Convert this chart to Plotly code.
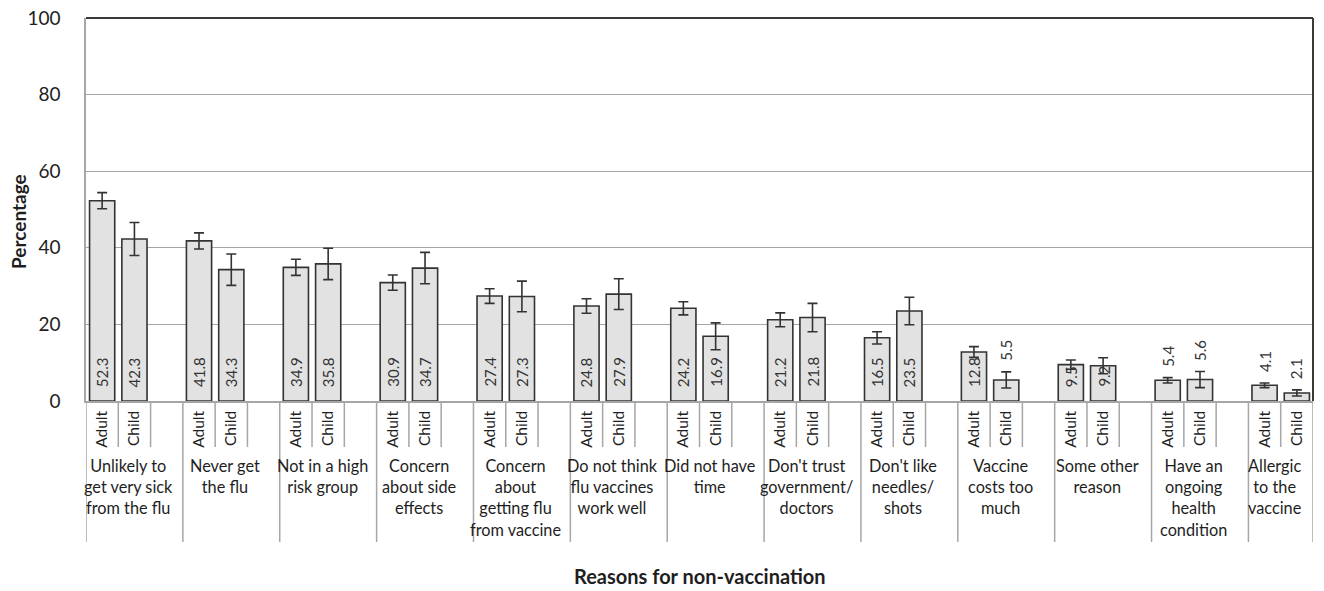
import plotly.graph_objects as go

# ---------------- data ----------------
groups = [
    "Unlikely to<br>get very sick<br>from the flu",
    "Never get<br>the flu",
    "Not in a high<br>risk group",
    "Concern<br>about side<br>effects",
    "Concern<br>about<br>getting flu<br>from vaccine",
    "Do not think<br>flu vaccines<br>work well",
    "Did not have<br>time",
    "Don't trust<br>government/<br>doctors",
    "Don't like<br>needles/<br>shots",
    "Vaccine<br>costs too<br>much",
    "Some other<br>reason",
    "Have an<br>ongoing<br>health<br>condition",
    "Allergic<br>to the<br>vaccine",
]
adult = [52.3, 41.8, 34.9, 30.9, 27.4, 24.8, 24.2, 21.2, 16.5, 12.8, 9.5, 5.4, 4.1]
adult_err = [2.1, 2.1, 2.1, 2.0, 1.9, 1.9, 1.7, 1.8, 1.6, 1.4, 1.2, 0.7, 0.6]
child = [42.3, 34.3, 35.8, 34.7, 27.3, 27.9, 16.9, 21.8, 23.5, 5.5, 9.2, 5.6, 2.1]
child_err = [4.3, 4.1, 4.1, 4.1, 4.0, 4.0, 3.5, 3.7, 3.6, 2.1, 2.1, 2.1, 0.8]
sub_labels = ["Adult", "Child"]
y_ticks = [0, 20, 40, 60, 80, 100]

# ---------------- layout constants ----------------
W, H = 1324, 591
ML, MR, MT, MB = 86, 11, 18, 190
PH = H - MT - MB
FONT = "Lato, 'Open Sans', sans-serif"
DARK = "#333333"
GRID = "#a6a6a6"
FILL = "#e2e2e2"
TXT = "#1e1e1e"

n = len(groups)
slots_per_group = 3
adult_x = [slots_per_group * g for g in range(n)]
child_x = [slots_per_group * g + 1 for g in range(n)]
x_min = -0.5
x_max = slots_per_group * (n - 1) + 1.5

fig = go.Figure()
for xs, ys, es in [(adult_x, adult, adult_err), (child_x, child, child_err)]:
    fig.add_trace(go.Bar(
        x=xs, y=ys, width=0.78,
        marker=dict(color=FILL, line=dict(color=DARK, width=1.6)),
        error_y=dict(type="data", array=es, visible=True, color=DARK,
                     thickness=1.6, width=5),
        showlegend=False, hoverinfo="skip",
    ))

# value labels
annotations = []
for xs, ys, es in [(adult_x, adult, adult_err), (child_x, child, child_err)]:
    for x, v, e in zip(xs, ys, es):
        inside = v >= 8
        annotations.append(dict(x=x, y=0 if inside else v + e, xref="x", yref="y",
                                text=f"{v:.1f}", textangle=-90,
                                yanchor="bottom", xanchor="center",
                                yshift=12 if inside else 9, showarrow=False,
                                font=dict(family=FONT, size=15, color=DARK)))

# group labels
for g, lab in enumerate(groups):
    g_start = adult_x[g] - 0.5
    g_end = (child_x[g] + 0.5) if g == n - 1 else (child_x[g] + 1.5)
    annotations.append(dict(x=(g_start + g_end) / 2, y=0, xref="x", yref="paper", text=lab,
                            yanchor="top", xanchor="center", yshift=-53, xshift=-6,
                            showarrow=False, align="center",
                            font=dict(family=FONT, size=16.3, color=TXT)))

# axis titles
annotations.append(dict(x=-(ML - 18) / (W - ML - MR), y=(401 - 222) / PH, xref="paper",
                        yref="paper", text="<b>Percentage</b>", textangle=-90,
                        showarrow=False, xanchor="center", yanchor="middle",
                        font=dict(family=FONT, size=19, color=TXT)))
annotations.append(dict(x=(700 - ML) / (W - ML - MR), y=-(576 - MT - PH) / PH, xref="paper",
                        yref="paper", text="<b>Reasons for non-vaccination</b>",
                        showarrow=False, xanchor="center", yanchor="middle",
                        font=dict(family=FONT, size=20, color=TXT)))

# divider shapes under the axis
shapes = []
short = -46 / PH
long_ = -141 / PH
for g in range(n):
    shapes.append(dict(type="line", xref="x", yref="paper", x0=adult_x[g] - 0.5,
                       x1=adult_x[g] - 0.5, y0=0, y1=long_, line=dict(color=GRID, width=1.5)))
    shapes.append(dict(type="line", xref="x", yref="paper", x0=adult_x[g] + 0.5,
                       x1=adult_x[g] + 0.5, y0=0, y1=short, line=dict(color=GRID, width=1.5)))
    if g < n - 1:
        shapes.append(dict(type="line", xref="x", yref="paper", x0=child_x[g] + 0.5,
                           x1=child_x[g] + 0.5, y0=0, y1=short, line=dict(color=GRID, width=1.5)))
shapes.append(dict(type="line", xref="x", yref="paper", x0=x_max, x1=x_max, y0=0, y1=long_,
                   line=dict(color=GRID, width=1.5)))
# top and right frame (dark)
shapes.append(dict(type="line", xref="paper", yref="paper", x0=0, x1=1, y0=1, y1=1,
                   line=dict(color="#3a3a3a", width=2)))
shapes.append(dict(type="line", xref="paper", yref="paper", x0=1, x1=1, y0=0, y1=1,
                   line=dict(color="#3a3a3a", width=2)))

fig.update_layout(
    width=W, height=H,
    margin=dict(l=ML, r=MR, t=MT, b=MB),
    paper_bgcolor="white", plot_bgcolor="white",
    barmode="overlay",
    font=dict(family=FONT, color=TXT),
    annotations=annotations,
    shapes=shapes,
    xaxis=dict(range=[x_min, x_max], tickmode="array",
               tickvals=adult_x + child_x,
               ticktext=[sub_labels[0]] * n + [sub_labels[1]] * n,
               tickangle=-90, tickfont=dict(family=FONT, size=15.5, color=TXT),
               showgrid=False, zeroline=False, showline=True, linecolor=GRID, linewidth=1.5,
               ticks="", ticklabelstandoff=2, fixedrange=True, automargin=False),
    yaxis=dict(range=[0, 100], tickmode="array", tickvals=y_ticks,
               tickfont=dict(family=FONT, size=19, color=TXT),
               showgrid=True, gridcolor=GRID, gridwidth=1.3, zeroline=False,
               showline=True, linecolor=GRID, linewidth=1.5, ticks="",
               ticklabelstandoff=20, fixedrange=True, automargin=False),
)

fig.write_html("out.html", config={"displayModeBar": False},
               post_script="document.body.style.margin='0px';document.body.style.overflow='hidden';")
